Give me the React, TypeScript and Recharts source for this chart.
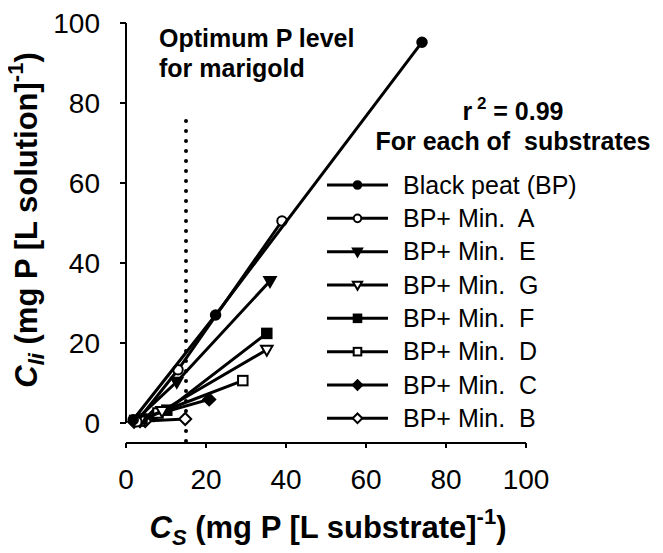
import React from 'react';
import { ScatterChart, Scatter, XAxis, YAxis, ReferenceLine } from 'recharts';

const FONT = '"Liberation Sans", Arial, Helvetica, sans-serif';

const xTicks = [0, 20, 40, 60, 80, 100];
const yTicks = [0, 20, 40, 60, 80, 100];

const blackPeat = [{ x: 1.8, y: 0.8 }, { x: 22.4, y: 27 }, { x: 74, y: 95.2 }];
const minA = [{ x: 2.7, y: 0.3 }, { x: 13, y: 13.3 }, { x: 39, y: 50.5 }];
const minE = [{ x: 2.5, y: 0.8 }, { x: 12.7, y: 10.3 }, { x: 36, y: 35.5 }];
const minG = [{ x: 3.5, y: 0.6 }, { x: 9, y: 3 }, { x: 35.2, y: 18.3 }];
const minF = [{ x: 4, y: 1 }, { x: 10.2, y: 3.2 }, { x: 35.2, y: 22.4 }];
const minD = [{ x: 3.5, y: 0.5 }, { x: 8, y: 2.5 }, { x: 29.2, y: 10.6 }];
const minC = [{ x: 3.5, y: 0.5 }, { x: 7, y: 2 }, { x: 20.8, y: 5.9 }];
const minB = [{ x: 2, y: 0.3 }, { x: 4.8, y: 0.5 }, { x: 14.8, y: 1 }];

const optimumP = 15;
const optimumTop = 77.5;

type Kind = 'circle' | 'triangle' | 'square' | 'diamond';

const seriesList: { name: string; data: { x: number; y: number }[]; kind: Kind; filled: boolean }[] = [
  { name: 'Black peat (BP)', data: blackPeat, kind: 'circle', filled: true },
  { name: 'BP+ Min.  A', data: minA, kind: 'circle', filled: false },
  { name: 'BP+ Min.  E', data: minE, kind: 'triangle', filled: true },
  { name: 'BP+ Min.  G', data: minG, kind: 'triangle', filled: false },
  { name: 'BP+ Min.  F', data: minF, kind: 'square', filled: true },
  { name: 'BP+ Min.  D', data: minD, kind: 'square', filled: false },
  { name: 'BP+ Min.  C', data: minC, kind: 'diamond', filled: true },
  { name: 'BP+ Min.  B', data: minB, kind: 'diamond', filled: false },
];

function Marker({ cx, cy, kind, filled, s }: { cx: number; cy: number; kind: Kind; filled: boolean; s: number }) {
  const fill = filled ? '#000' : '#fff';
  const common = { fill, stroke: '#000', strokeWidth: 2 };
  if (cx == null || cy == null || isNaN(cx) || isNaN(cy)) return null;
  switch (kind) {
    case 'circle':
      return <circle cx={cx} cy={cy} r={s * 0.95} {...common} />;
    case 'square':
      return <rect x={cx - s * 0.95} y={cy - s * 0.95} width={s * 1.9} height={s * 1.9} {...common} />;
    case 'diamond':
      return (
        <polygon
          points={`${cx},${cy - s * 1.2} ${cx + s * 1.2},${cy} ${cx},${cy + s * 1.2} ${cx - s * 1.2},${cy}`}
          {...common}
        />
      );
    case 'triangle':
    default:
      return (
        <polygon
          points={`${cx - s * 1.15},${cy - s * 0.8} ${cx + s * 1.15},${cy - s * 0.8} ${cx},${cy + s * 1.2}`}
          {...common}
        />
      );
  }
}

export default function App() {
  const legendTop = 185;
  const legendStep = 33.33;
  return (
    <div style={{ position: 'relative', margin: '-8px', width: 663, height: 553, overflow: 'hidden', background: '#fff' }}>
      <ScatterChart width={663} height={553} margin={{ top: 23, right: 137, bottom: 0, left: 0 }}>
        <XAxis
          type="number"
          dataKey="x"
          domain={[0, 100]}
          ticks={xTicks}
          interval={0}
          axisLine={{ stroke: '#000', strokeWidth: 2 }}
          tickLine={{ stroke: '#000', strokeWidth: 2 }}
          tickSize={5}
          tickMargin={21}
          height={110}
          tick={{ fill: '#000', fontSize: 28, fontFamily: FONT }}
        />
        <YAxis
          type="number"
          dataKey="y"
          domain={[-5, 100]}
          ticks={yTicks}
          interval={0}
          allowDataOverflow
          axisLine={false}
          tickLine={{ stroke: '#000', strokeWidth: 2 }}
          tickSize={6}
          tickMargin={20}
          width={126}
          tick={{ fill: '#000', fontSize: 28, fontFamily: FONT }}
        />
        <ReferenceLine
          segment={[{ x: 0, y: 0 }, { x: 0, y: 100 }]}
          stroke="#000"
          strokeWidth={2}
          ifOverflow="visible"
        />
        <ReferenceLine
          segment={[{ x: optimumP, y: -4.5 }, { x: optimumP, y: optimumTop }]}
          stroke="#000"
          strokeWidth={4}
          strokeDasharray="0 10"
          strokeLinecap="round"
          ifOverflow="visible"
        />
        {seriesList
          .slice()
          .reverse()
          .map((s) => (
            <Scatter
              key={s.name}
              name={s.name}
              data={s.data}
              line={{ stroke: '#000', strokeWidth: 3 }}
              lineType="joint"
              isAnimationActive={false}
              shape={(p: any) => <Marker cx={p.cx} cy={p.cy} kind={s.kind} filled={s.filled} s={5} />}
            />
          ))}
      </ScatterChart>
      <svg
        width={663}
        height={553}
        style={{ position: 'absolute', left: 0, top: 0, pointerEvents: 'none' }}
        fontFamily={FONT}
      >
        <text x={159} y={47} fontSize={25} fontWeight="bold" fill="#000">Optimum P level</text>
        <text x={159} y={77} fontSize={25} fontWeight="bold" fill="#000">for marigold</text>
        <text x={513} y={120} fontSize={25} fontWeight="bold" fill="#000" textAnchor="middle">
          r<tspan fontSize={17} dy={-11}> 2</tspan>
          <tspan dy={11}> = 0.99</tspan>
        </text>
        <text x={513} y={150} fontSize={25} fontWeight="bold" fill="#000" textAnchor="middle" style={{ whiteSpace: 'pre' }}>
          For each of  substrates
        </text>
        {seriesList.map((s, i) => {
          const y = legendTop + i * legendStep;
          return (
            <g key={s.name}>
              <line x1={327} x2={388} y1={y} y2={y} stroke="#000" strokeWidth={3} />
              <Marker cx={357.5} cy={y} kind={s.kind} filled={s.filled} s={4} />
              <text x={403} y={y} dy="0.35em" fontSize={25} fill="#000" style={{ whiteSpace: 'pre' }}>
                {s.name}
              </text>
            </g>
          );
        })}
        <text x={328} y={538} fontSize={31} fontWeight="bold" fill="#000" textAnchor="middle">
          <tspan fontStyle="italic">C</tspan>
          <tspan fontStyle="italic" fontSize={22} dy={7}>S</tspan>
          <tspan dy={-7}> (mg P [L substrate]</tspan>
          <tspan fontSize={22} dy={-14}>-1</tspan>
          <tspan dy={14}>)</tspan>
        </text>
        <text
          transform="rotate(-90)"
          x={-220}
          y={37}
          fontSize={31}
          fontWeight="bold"
          fill="#000"
          textAnchor="middle"
        >
          <tspan fontStyle="italic">C</tspan>
          <tspan fontStyle="italic" fontSize={22} dy={7}>li</tspan>
          <tspan dy={-7}> (mg P [L solution]</tspan>
          <tspan fontSize={22} dy={-14}>-1</tspan>
          <tspan dy={14}>)</tspan>
        </text>
      </svg>
    </div>
  );
}
